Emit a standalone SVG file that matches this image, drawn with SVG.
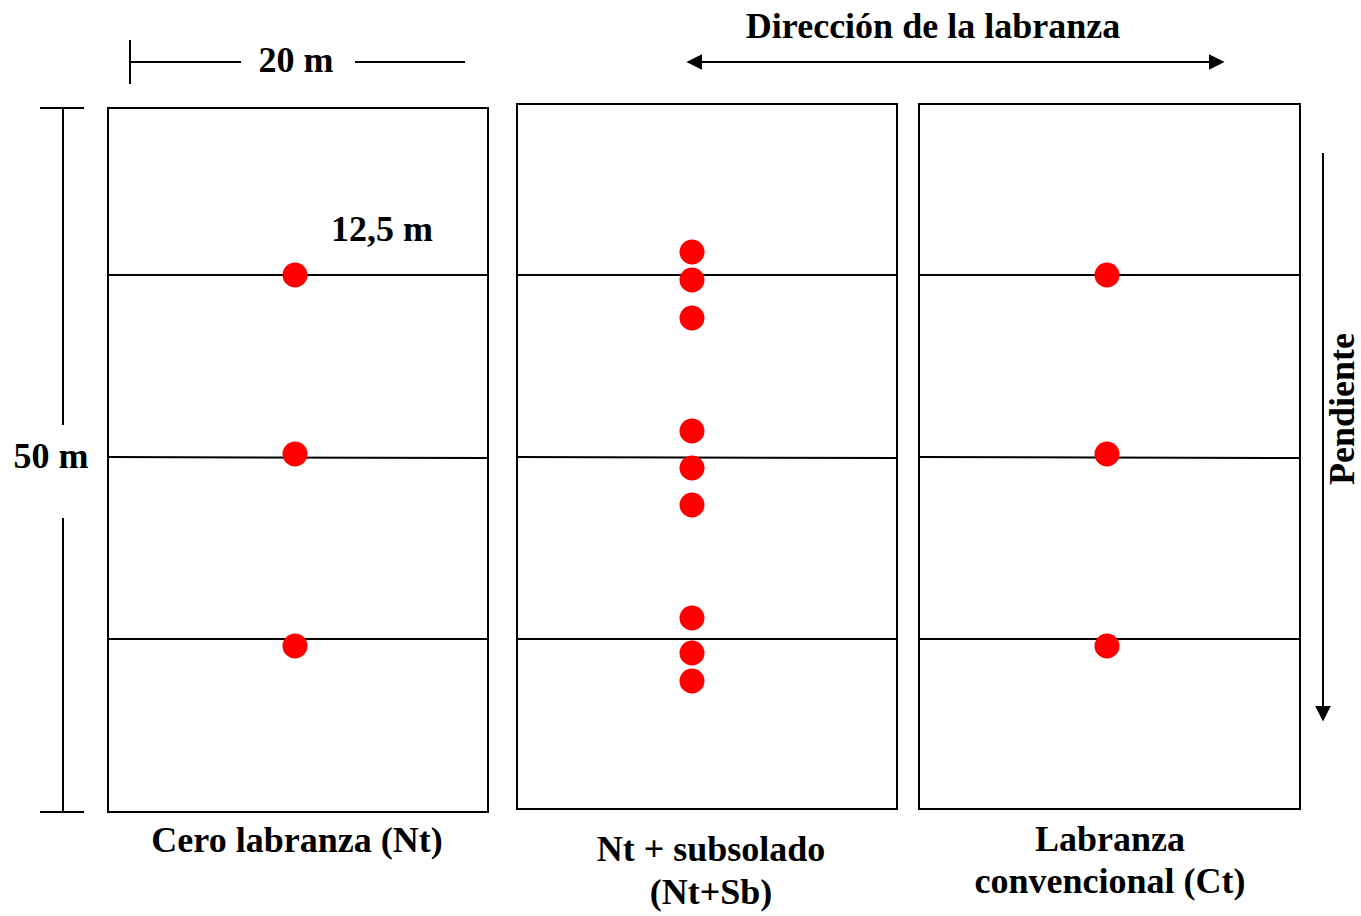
<svg xmlns="http://www.w3.org/2000/svg" width="1361" height="916" viewBox="0 0 1361 916">
<defs>
<style>
.t{font-family:"Liberation Serif","DejaVu Serif",serif;font-weight:bold;font-size:36px;fill:#000}
.b{fill:#fff;stroke:#000;stroke-width:2}
.l{stroke:#000;stroke-width:2;fill:none}
.d{fill:#ff0000}
</style>
<marker id="ah" viewBox="0 0 10 10" refX="9" refY="5" markerWidth="16" markerHeight="16" markerUnits="userSpaceOnUse" orient="auto-start-reverse">
<path d="M0,0 L10,5 L0,10 z" fill="#000"/>
</marker>
</defs>
<rect width="1361" height="916" fill="#fff"/>

<g id="dim-20m">
<line class="l" x1="130" y1="40" x2="130" y2="84"/>
<line class="l" x1="130" y1="62" x2="241" y2="62"/>
<line class="l" x1="355" y1="62" x2="465" y2="62"/>
<text class="t" x="296" y="72" text-anchor="middle">20 m</text>
</g>

<g id="dim-50m">
<line class="l" x1="40" y1="108" x2="84" y2="108"/>
<line class="l" x1="63" y1="108" x2="63" y2="425"/>
<line class="l" x1="63" y1="518" x2="63" y2="812"/>
<line class="l" x1="40" y1="812" x2="84" y2="812"/>
<text class="t" x="51" y="468" text-anchor="middle">50 m</text>
</g>

<g id="direccion">
<text class="t" x="933" y="38" text-anchor="middle">Dirección de la labranza</text>
</g>

<g id="pendiente">
<text class="t" transform="translate(1354,409) rotate(-90)" text-anchor="middle">Pendiente</text>
</g>

<g id="plot-nt">
<rect class="b" x="108" y="108" width="380" height="704"/>
<line class="l" x1="108" y1="275" x2="488" y2="275"/>
<line class="l" x1="108" y1="457" x2="488" y2="458"/>
<line class="l" x1="108" y1="639" x2="488" y2="639"/>
<circle class="d" cx="295" cy="275" r="12.5"/>
<circle class="d" cx="295" cy="454" r="12.5"/>
<circle class="d" cx="295" cy="646" r="12.5"/>
<text class="t" x="382" y="241" text-anchor="middle">12,5 m</text>
<text class="t" x="297" y="852" text-anchor="middle">Cero labranza (Nt)</text>
</g>

<g id="plot-ntsb">
<rect class="b" x="517" y="104" width="380" height="705"/>
<line class="l" x1="517" y1="275" x2="897" y2="275"/>
<line class="l" x1="517" y1="457" x2="897" y2="458"/>
<line class="l" x1="517" y1="639" x2="897" y2="639"/>
<circle class="d" cx="692" cy="252" r="12.5"/>
<circle class="d" cx="692" cy="280" r="12.5"/>
<circle class="d" cx="692" cy="318" r="12.5"/>
<circle class="d" cx="692" cy="431" r="12.5"/>
<circle class="d" cx="692" cy="468" r="12.5"/>
<circle class="d" cx="692" cy="505" r="12.5"/>
<circle class="d" cx="692" cy="618" r="12.5"/>
<circle class="d" cx="692" cy="653" r="12.5"/>
<circle class="d" cx="692" cy="681" r="12.5"/>
<text class="t" x="711" y="861" text-anchor="middle">Nt + subsolado</text>
<text class="t" x="711" y="904" text-anchor="middle">(Nt+Sb)</text>
</g>

<g id="plot-ct">
<rect class="b" x="919" y="104" width="381" height="705"/>
<line class="l" x1="919" y1="275" x2="1300" y2="275"/>
<line class="l" x1="919" y1="457" x2="1300" y2="458"/>
<line class="l" x1="919" y1="639" x2="1300" y2="639"/>
<circle class="d" cx="1107" cy="275" r="12.5"/>
<circle class="d" cx="1107" cy="454" r="12.5"/>
<circle class="d" cx="1107" cy="646" r="12.5"/>
<text class="t" x="1110" y="851" text-anchor="middle">Labranza</text>
<text class="t" x="1110" y="893" text-anchor="middle">convencional (Ct)</text>
</g>

<g id="connectors">
<line class="l" x1="688" y1="62" x2="1223" y2="62" marker-start="url(#ah)" marker-end="url(#ah)"/>
<line class="l" x1="1323" y1="153" x2="1323" y2="720" marker-end="url(#ah)"/>
</g>
</svg>
